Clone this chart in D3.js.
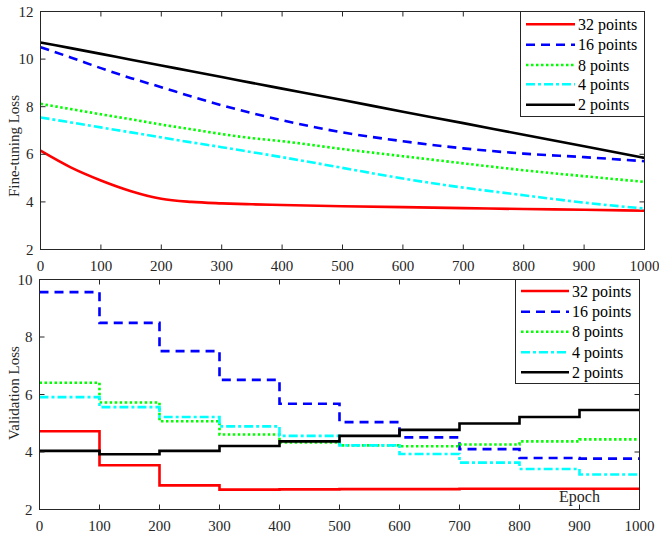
<!DOCTYPE html>
<html><head><meta charset="utf-8">
<script src="https://cdn.jsdelivr.net/npm/d3@7"></script>
<style>body{margin:0;background:#fff}svg{display:block}text{font-family:"Liberation Serif","Times New Roman",serif}</style>
</head><body>
<script>
// ---------- data ----------
const seriesNames = ["32 points","16 points","8 points","4 points","2 points"];
const topEpochs = [0,50,100,150,200,250,300,350,400,500,600,700,800,900,1000];
const ftLoss32 = [6.15,5.45,4.9,4.45,4.13,4.0,3.94,3.9,3.87,3.82,3.78,3.74,3.70,3.67,3.63];
const ftLoss16 = [10.5,10.07,9.62,9.2,8.82,8.43,8.06,7.73,7.43,6.92,6.55,6.25,6.03,5.88,5.71];
const ftLoss8  = [8.12,7.9,7.68,7.47,7.25,7.05,6.85,6.68,6.55,6.22,5.92,5.62,5.33,5.08,4.84];
const ftLoss4  = [7.55,7.34,7.13,6.92,6.71,6.5,6.3,6.09,5.88,5.43,4.98,4.6,4.28,3.97,3.72];
const ftLoss2  = [10.7,10.46,10.22,9.97,9.73,9.49,9.25,9.0,8.76,8.28,7.79,7.31,6.82,6.34,5.85];

const valEpochs = [0,100,200,300,400,500,600,700,800,900,1000];
const valLoss32 = [4.72,3.54,2.84,2.69,2.7,2.71,2.71,2.72,2.72,2.72,2.72];
const valLoss16 = [9.56,8.49,7.51,6.51,5.68,5.04,4.51,4.1,3.79,3.77,3.77];
const valLoss8  = [6.41,5.72,5.07,4.61,4.33,4.23,4.2,4.26,4.37,4.44,4.44];
const valLoss4  = [5.91,5.56,5.22,4.89,4.56,4.23,3.93,3.63,3.41,3.22,3.22];
const valLoss2  = [4.04,3.92,4.04,4.21,4.37,4.56,4.77,4.99,5.22,5.46,5.46];

const xTicks = [0,100,200,300,400,500,600,700,800,900,1000];
const yTicksTop = [2,4,6,8,10,12];
const yTicksBot = [2,4,6,8,10];

// ---------- styles ----------
const styles = [
  {color:"#ff0000", dash:null},
  {color:"#0000ff", dash:"9,6"},
  {color:"#00ff00", dash:"2.5,2.5"},
  {color:"#00ffff", dash:"9,3,3,3"},
  {color:"#000000", dash:null}
];
const axisColor = "#262626";

const svg = d3.select("body").append("svg").attr("width",659).attr("height",537);

function panel(cfg){
  const x = d3.scaleLinear().domain([0,1000]).range([cfg.x0,cfg.x1]);
  const y = d3.scaleLinear().domain(cfg.ydom).range([cfg.y1,cfg.y0]);
  const g = svg.append("g");
  const line = d3.line().x(d=>x(d[0])).y(d=>y(d[1])).curve(cfg.curve);
  cfg.series.forEach((vals,i)=>{
    const pts = cfg.epochs.map((e,j)=>[e,vals[j]]);
    g.append("path").datum(pts).attr("d",line)
      .attr("fill","none").attr("stroke",styles[i].color)
      .attr("stroke-width",2.6)
      .attr("stroke-dasharray",styles[i].dash);
  });
  const ax = g.append("g");
  ax.append("rect").attr("x",cfg.x0).attr("y",cfg.y0)
    .attr("width",cfg.x1-cfg.x0).attr("height",cfg.y1-cfg.y0)
    .attr("fill","none").attr("stroke",axisColor).attr("stroke-width",1);
  const tl = 5;
  xTicks.forEach(t=>{
    const px = x(t);
    ax.append("line").attr("x1",px).attr("x2",px).attr("y1",cfg.y1).attr("y2",cfg.y1-tl).attr("stroke",axisColor);
    ax.append("line").attr("x1",px).attr("x2",px).attr("y1",cfg.y0).attr("y2",cfg.y0+tl).attr("stroke",axisColor);
    ax.append("text").attr("x",px).attr("y",cfg.y1+21).attr("text-anchor","middle")
      .attr("font-size",15).attr("fill",axisColor).text(t);
  });
  cfg.yticks.forEach(t=>{
    const py = y(t);
    ax.append("line").attr("x1",cfg.x0).attr("x2",cfg.x0+tl).attr("y1",py).attr("y2",py).attr("stroke",axisColor);
    ax.append("line").attr("x1",cfg.x1).attr("x2",cfg.x1-tl).attr("y1",py).attr("y2",py).attr("stroke",axisColor);
    ax.append("text").attr("x",cfg.x0-7).attr("y",py+5).attr("text-anchor","end")
      .attr("font-size",15).attr("fill",axisColor).text(t);
  });
  ax.append("text").attr("transform",`translate(${cfg.ylx},${cfg.ylc}) rotate(-90)`)
    .attr("text-anchor","middle").attr("font-size",15).attr("fill",axisColor).text(cfg.ylabel);
  const L = cfg.legend;
  const lg = g.append("g");
  lg.append("rect").attr("x",L.x0).attr("y",L.y0).attr("width",L.x1-L.x0).attr("height",L.y1-L.y0)
    .attr("fill","#fff").attr("stroke",axisColor).attr("stroke-width",1);
  seriesNames.forEach((n,i)=>{
    const ly = L.rows[i];
    lg.append("line").attr("x1",L.lx0).attr("x2",L.lx1).attr("y1",ly).attr("y2",ly)
      .attr("stroke",styles[i].color).attr("stroke-width",2.6).attr("stroke-dasharray",styles[i].dash);
    lg.append("text").attr("x",L.tx).attr("y",ly+5.5).attr("font-size",16).attr("fill","#000").text(n);
  });
  return {x,y,g};
}

panel({
  x0:40.5, x1:644.5, y0:11.5, y1:249.5, ydom:[2,12], yticks:yTicksTop,
  epochs:topEpochs, series:[ftLoss32,ftLoss16,ftLoss8,ftLoss4,ftLoss2],
  curve:d3.curveMonotoneX, ylabel:"Fine-tuning Loss", ylx:19, ylc:146,
  legend:{x0:520.5,x1:644.5,y0:11.5,y1:116.5,lx0:526,lx1:575,tx:578,rows:[24.3,44.7,65,84.3,104.7]}
});
const bot = panel({
  x0:39.5, x1:639.5, y0:279.5, y1:509.5, ydom:[2,10], yticks:yTicksBot,
  epochs:valEpochs, series:[valLoss32,valLoss16,valLoss8,valLoss4,valLoss2],
  curve:d3.curveStepAfter, ylabel:"Validation Loss", ylx:19, ylc:393,
  legend:{x0:515.5,x1:639.5,y0:279.5,y1:383.5,lx0:521,lx1:569,tx:572,rows:[291,311.7,331.7,352.3,372.3]}
});
bot.g.append("text").attr("x",bot.x(900)).attr("y",502).attr("text-anchor","middle")
  .attr("font-size",16).attr("fill",axisColor).text("Epoch");
</script>
</body></html>
